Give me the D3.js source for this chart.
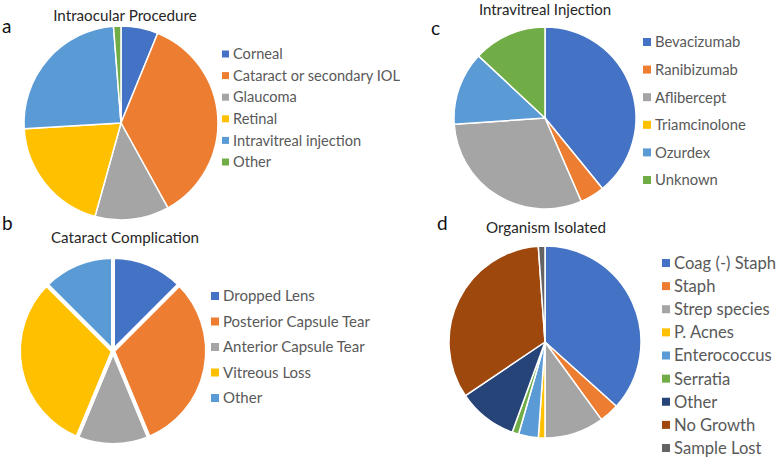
<!DOCTYPE html>
<html>
<head>
<meta charset="utf-8">
<script src="https://cdn.jsdelivr.net/npm/d3@7"></script>
<style>
   body { margin: 0; background: #fff; }
   text { font-family: Lato, "Open Sans", sans-serif; }
</style>
</head>
<body>
<div id="chart"></div>
<script>

var procedureLabels = ['Corneal', 'Cataract or secondary IOL', 'Glaucoma', 'Retinal', 'Intravitreal injection', 'Other'];
var procedureValues = [5, 29, 10, 16, 20, 1];

var complicationLabels = ['Dropped Lens', 'Posterior Capsule Tear', 'Anterior Capsule Tear', 'Vitreous Loss', 'Other'];
var complicationValues = [2, 5, 2, 5, 2];

var injectionLabels = ['Bevacizumab', 'Ranibizumab', 'Aflibercept', 'Triamcinolone', 'Ozurdex', 'Unknown'];
var injectionValues = [9, 1, 7, 0, 3, 3];

var organismLabels = ['Coag (-) Staph', 'Staph', 'Strep species', 'P. Acnes', 'Enterococcus', 'Serratia', 'Other', 'No Growth', 'Sample Lost'];
var organismValues = [33, 3, 9, 1, 3, 1, 9, 30, 1];

// OFFICE COLOUR PALETTE
var palette = ['#4472C4', '#ED7D31', '#A5A5A5', '#FFC000', '#5B9BD5', '#70AD47', '#264478', '#9E480E', '#636363'];

// GENERATE CANVAS
var svg = d3.select('#chart').append('svg')
   .attr('width', 778)
   .attr('height', 459)

// DRAW ONE PIE PANEL WITH TITLE, LETTER & LEGEND
function panel(labels, values, settings) {

   var color = d3.scaleOrdinal()
      .domain(labels)
      .range(palette)

   var pie = d3.pie()
      .sort(null)
      .value((d) => { return d.value })

   var arc = d3.arc()
      .innerRadius(0)
      .outerRadius(settings.radius)

   var rows = labels.map((label, i) => { return { label: label, value: values[i] } })

   // PIE SLICES
   var g = svg.append('g')
      .attr('transform', 'translate(' + settings.cx + ',' + settings.cy + ')')

   g.selectAll('path')
      .data(pie(rows).filter((d) => { return d.data.value > 0 }))
         .enter().append('path')
            .attr('d', arc)
            .attr('fill', (d) => { return color(d.data.label) })
            .attr('stroke', '#fff')
            .attr('stroke-width', settings.stroke)
            .attr('stroke-linejoin', 'round')

   // TITLE
   svg.append('text')
      .attr('x', settings.titleX)
      .attr('y', settings.titleY)
      .attr('text-anchor', 'middle')
      .attr('font-size', settings.titleSize)
      .attr('fill', '#262626')
      .text(settings.title)

   // PANEL LETTER
   svg.append('text')
      .attr('x', settings.letterX)
      .attr('y', settings.letterY)
      .attr('font-size', 19)
      .attr('fill', '#111')
      .text(settings.letter)

   // LEGEND
   var y = d3.scalePoint()
      .domain(labels)
      .range([settings.legendTop, settings.legendBottom])

   var legend = svg.append('g')
      .selectAll('g')
      .data(labels)
         .enter().append('g')
            .attr('transform', (d) => { return 'translate(' + settings.legendX + ',' + y(d) + ')' })

   legend.append('rect')
      .attr('x', 0)
      .attr('y', -settings.box / 2)
      .attr('width', settings.box)
      .attr('height', settings.box)
      .attr('fill', (d) => { return color(d) })

   legend.append('text')
      .attr('x', settings.box + 4)
      .attr('dy', '0.36em')
      .attr('font-size', settings.legendSize)
      .attr('fill', '#595959')
      .text((d) => { return d })
}

panel(procedureLabels, procedureValues, {
   cx: 121, cy: 123, radius: 97, stroke: 1.5,
   title: 'Intraocular Procedure', titleX: 125, titleY: 21, titleSize: 15.2,
   letter: 'a', letterX: 2, letterY: 33,
   legendX: 222, legendTop: 54, legendBottom: 162, legendSize: 14.6, box: 7
})

panel(complicationLabels, complicationValues, {
   cx: 113, cy: 351, radius: 94, stroke: 4,
   title: 'Cataract Complication', titleX: 125, titleY: 243, titleSize: 15.2,
   letter: 'b', letterX: 2, letterY: 230,
   legendX: 211, legendTop: 296, legendBottom: 398, legendSize: 15, box: 8
})

panel(injectionLabels, injectionValues, {
   cx: 545, cy: 118, radius: 91, stroke: 1.5,
   title: 'Intravitreal Injection', titleX: 545, titleY: 15, titleSize: 15,
   letter: 'c', letterX: 431, letterY: 35,
   legendX: 643, legendTop: 42, legendBottom: 180, legendSize: 14.8, box: 8
})

panel(organismLabels, organismValues, {
   cx: 545, cy: 342, radius: 96, stroke: 1.5,
   title: 'Organism Isolated', titleX: 546, titleY: 233, titleSize: 15.2,
   letter: 'd', letterX: 437, letterY: 230,
   legendX: 662, legendTop: 263, legendBottom: 448, legendSize: 16.6, box: 8
})

</script>
</body>
</html>
